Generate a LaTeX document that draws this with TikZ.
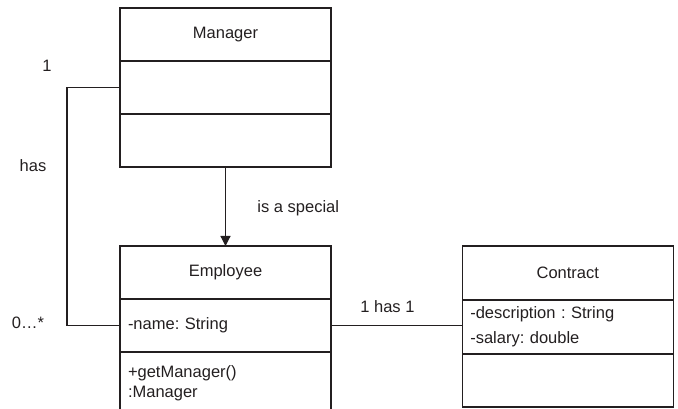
\documentclass[tikz,border=0pt]{standalone}
\usepackage{fontspec}
\setmainfont{Liberation Sans}
\usepackage{tikz}
\usetikzlibrary{shapes,arrows.meta,positioning,calc}
\definecolor{UMLInk}{RGB}{35, 31, 32}

\begin{document}
\begin{tikzpicture}[x=1pt, y=-1pt, node distance=0pt, font=\fontsize{16.5}{20}\selectfont\frenchspacing, every node/.style={text=UMLInk}]
  \tikzstyle{classhead} = [rectangle, draw=UMLInk, line width=1.2pt, outer sep=0pt, minimum width=211pt, minimum height=53pt]
  \tikzstyle{members} = [classhead, text width=195pt, inner xsep=8pt, align=left]
  \tikzstyle{link} = [draw=UMLInk, line width=1.2pt]
  \clip (0,0) rectangle (678,409);

  % Manager
  \node [classhead] (mgrhead) at (225.5,34.5) {Manager};
  \node [members, below=of mgrhead] (mgrattr) {};
  \node [members, below=of mgrattr] (mgrops) {};
  \draw [link, line width=2pt] (mgrattr.south west) -- (mgrattr.south east);

  % Employee
  \node [classhead] (emphead) at (225.5,272.5) {Employee};
  \node [members, below=of emphead] (empattr) {-name: String};
  \node [members, below=of empattr, minimum height=62pt] (empops) {+getManager()\\:Manager};

  % Contract
  \node [classhead, minimum height=54pt] (conhead) at (567.8,273) {Contract};
  \node [members, below=of conhead, minimum height=54pt] (conattr) {-description : String\\[5pt]-salary: double};
  \node [members, below=of conattr] (conops) {};
  \draw [link, line width=2pt] (conattr.south west) -- (conattr.south east);

  % generalisation and associations
  \path [link, -{Triangle[length=10pt,width=10pt]}] (mgrops) -- node [right=28pt, pos=.52] {is a special} (emphead);
  \draw [link] (mgrattr.west) -- ++(-53,0) |- (empattr.west);
  \path [link] (empattr.east) -- node [above=9pt, pos=.43] {1 has 1} (empattr.east -| conattr.west);

  \node (one) at (47,66) {1};
  \node (has) at (33,166) {has};
  \node (many) at (28,323) {0…*};
\end{tikzpicture}
\end{document}
